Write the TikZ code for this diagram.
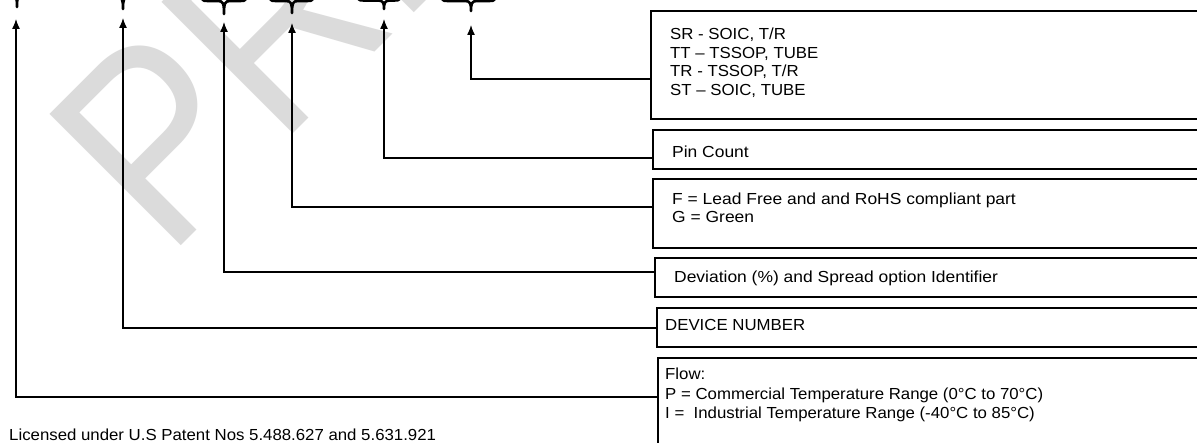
\documentclass[tikz,border=0pt]{standalone}
\usepackage{fontspec}
\newfontfamily\pf[FakeStretch=1.05]{Liberation Sans}
\newfontfamily\pfw[FakeStretch=1.09]{Liberation Sans}
\newfontfamily\wmf[FakeStretch=0.88]{Liberation Sans}
\usetikzlibrary{arrows.meta}
\newcommand\mybrace[5]{%
  \draw[bracestyle] ({#1},{#4-9}) .. controls ({#1},{#4}) .. ({#1+6},{#4})
    -- ({#3-6},{#4}) .. controls ({#3-1},{#4}) and ({#3},{#4+2}) .. ({#3},{#5})
    .. controls ({#3},{#4+2}) and ({#3+1},{#4}) .. ({#3+6},{#4})
    -- ({#2-6},{#4}) .. controls ({#2},{#4}) .. ({#2},{#4-9});}
\begin{document}
\begin{tikzpicture}[x=1pt,y=-1pt,
  box/.style={draw=black, line width=1.8pt, rectangle, inner sep=0, minimum width=600pt, anchor=north west},
  conn/.style={draw=black, line width=1.3pt, -{Latex[length=10pt,width=8pt]}},
  txt/.style={anchor=base west, inner sep=0, font=\pf\fontsize{16}{18}\selectfont},
  txtw/.style={anchor=base west, inner sep=0, font=\pfw\fontsize{16}{18}\selectfont},
  bracestyle/.style={line width=2.6pt, line cap=round, line join=round},
  wm/.style={anchor=base west, inner sep=0, rotate=45, text=black!14, font=\wmf\fontsize{270}{270}\selectfont}]
\useasboundingbox (0,0) rectangle (1197,443);
\clip (0,0) rectangle (1197,443);
\fill[white] (0,0) rectangle (1197,443);
% watermark
\node[wm] (wmark) at (167,260) {PRELIMINARY};
% braces at top
\mybrace{4}{30}{17}{-5}{7}
\mybrace{108}{138}{123}{-3}{9}
\mybrace{202}{246}{224}{1}{14}
\mybrace{270}{313}{292}{1}{13}
\mybrace{358}{400}{384}{0.5}{9}
\mybrace{442}{495}{471}{1}{11}
% boxes
\node[box, minimum height=108pt] (bx1) at (650,10) {};
\node[box, minimum height=39pt] (bx2) at (652,129) {};
\node[box, minimum height=69pt] (bx3) at (652,178) {};
\node[box, minimum height=39pt] (bx4) at (654,257) {};
\node[box, minimum height=39pt] (bx5) at (656,307) {};
\node[box, minimum height=200pt] (bx6) at (657,357) {};
% texts
\node[txt] (s1) at (670,40) {SR - SOIC, T/R};
\node[txt] (s2) at (670,58.5) {TT – TSSOP, TUBE};
\node[txt] (s3) at (670,77) {TR - TSSOP, T/R};
\node[txt] (s4) at (670,95.5) {ST – SOIC, TUBE};
\node[txtw] (p1) at (672,157.5) {Pin Count};
\node[txtw] (f1) at (672,205) {F = Lead Free and and RoHS compliant part};
\node[txtw] (f2) at (672,223) {G = Green};
\begin{scope}
\clip (654,257) rectangle (1197,286);
\node[txtw] (d1) at (674,283) {Deviation (\%) and Spread option Identifier};
\end{scope}
\node[txt] (n1) at (665,331) {DEVICE NUMBER};
\node[txt] (w1) at (665,380) {Flow:};
\node[txt] (w2) at (665,399.5) {P = Commercial Temperature Range (0°C to 70°C)};
\node[txt] (w3) at (665,419) {I = \ Industrial Temperature Range (-40°C to 85°C)};
\node[txt] (lic) at (9,441) {Licensed under U.S Patent Nos 5.488.627 and 5.631.921};
% connectors
\coordinate (t1) at (471,25); \coordinate (e1) at (650,79);
\coordinate (t2) at (384,19); \coordinate (e2) at (652,158);
\coordinate (t3) at (292,23); \coordinate (e3) at (652,207);
\coordinate (t4) at (224,22); \coordinate (e4) at (654,272);
\coordinate (t5) at (123,18); \coordinate (e5) at (656,328);
\coordinate (t6) at (16,19);  \coordinate (e6) at (657,397);
\draw[conn] (e1) -| (t1);
\draw[conn] (e2) -| (t2);
\draw[conn] (e3) -| (t3);
\draw[conn] (e4) -| (t4);
\draw[conn] (e5) -| (t5);
\draw[conn] (e6) -| (t6);
\end{tikzpicture}
\end{document}
